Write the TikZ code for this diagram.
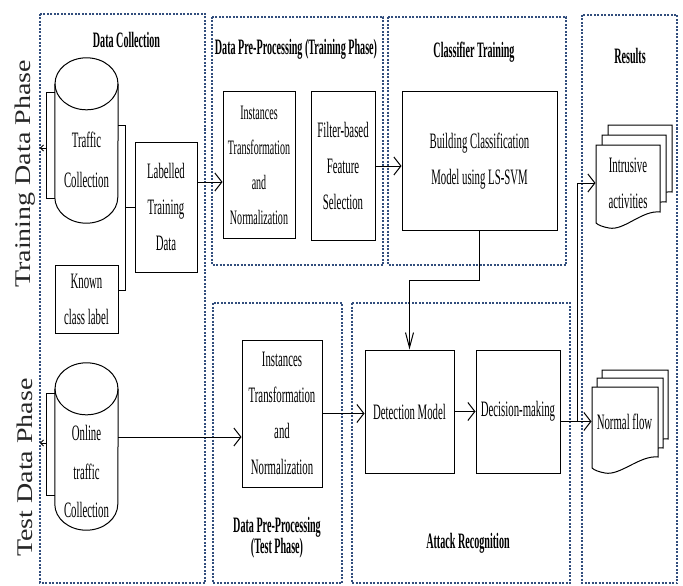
\documentclass[tikz,border=0pt]{standalone}
\usepackage{fontspec}
\usepackage{graphicx}
\usetikzlibrary{arrows.meta}

\newfontfamily\bodyfont[FakeStretch=0.49]{Liberation Serif}
\newfontfamily\titlefont[FakeStretch=0.46]{Liberation Serif}
\newfontfamily\phasefont{Liberation Serif}
\definecolor{regblue}{RGB}{50,78,125}

\tikzset{
  box/.style={draw, line width=1pt, align=center, inner sep=0pt, font=\bodyfont\fontsize{22}{36}\selectfont},
  ttl/.style={align=center, inner sep=0pt, font=\titlefont\bfseries\fontsize{22}{20}\selectfont},
  region/.style={draw=regblue, line width=2pt, dash pattern=on 2pt off 1.5pt},
  harr/.style={-{Straight Barb[length=7pt,width=18pt]}, line width=1pt},
  varr/.style={-{Straight Barb[length=15pt,width=8pt]}, line width=1pt},
  phase/.style={rotate=90, inner sep=0pt, text=black!85, font=\phasefont\fontsize{28}{30}\selectfont}
}

\newcommand{\drawcyl}[1]{%
  \draw[line width=1pt] ([yshift=-26pt]#1.north) ellipse [x radius=31.5pt, y radius=26pt];
  \draw[line width=1pt] ([yshift=-26pt]#1.north west) -- ([yshift=26pt]#1.south west)
    arc [start angle=180, end angle=360, x radius=31.5pt, y radius=26pt] -- ([yshift=-26pt]#1.north east);
}
\newcommand{\docpage}[4]{%
  \filldraw[fill=white, line width=1pt] (#1,-#2) -- (#3,-#2) -- (#3,-#4+16)
    .. controls (#3-18,-#4+18) and (#1+28,-#4-3) .. (#1+13,-#4)
    .. controls (#1+7,-#4+1) and (#1+2,-#4+3) .. (#1,-#4+5) -- cycle;
}

\begin{document}
\begin{tikzpicture}[x=1pt,y=1pt]
    \useasboundingbox (0,0) rectangle (683,-586);
    \fill[white] (0,0) rectangle (683,-586);

    \draw[region] (40,-14) rectangle (205,-583);
    \draw[region] (212,-17) rectangle (383,-265);
    \draw[region] (388,-17) rectangle (566,-265);
    \draw[region] (582,-15) rectangle (677,-583);
    \draw[region] (213,-303) rectangle (342,-583);
    \draw[region] (352,-303) rectangle (570,-583);

    \node[ttl] (tdc) at (126.5,-40) {Data Collection};
    \node[ttl] (tdptr) at (296,-49) {Data Pre-Processing (Training Phase)};
    \node[ttl] (tct) at (474,-52) {Classifier Training};
    \node[ttl] (tres) at (630,-56) {Results};
    \node[ttl] (tdpte) at (277,-538) {Data Pre-Processing\\(Test Phase)};
    \node[ttl] (tar) at (468,-543) {Attack Recognition};

    \node[phase] (trph) at (25,-174) {\scalebox{1}[0.8]{Training Data Phase}};
    \node[phase] (teph) at (25,-467.5) {\scalebox{1}[0.8]{Test Data Phase}};

    \node[minimum width=63pt, minimum height=165pt, inner sep=0pt] (tc) at (86.5,-140.5) {};
    \node[minimum width=63pt, minimum height=167pt, inner sep=0pt] (oc) at (86.5,-446.5) {};
    \drawcyl{tc}
    \drawcyl{oc}
    \node[box, draw=none, font=\bodyfont\fontsize{22}{40}\selectfont] (tctext) at (86.5,-160) {Traffic\\Collection};
    \node[box, draw=none, font=\bodyfont\fontsize{22}{38.5}\selectfont] (octext) at (86.5,-471.5) {Online\\traffic\\Collection};

    \node[box, minimum width=63pt, minimum height=68pt] (known) at (86.5,-299) {Known\\class label};
    \node[box, minimum width=62pt, minimum height=130pt] (lab) at (166,-207) {Labelled\\Training\\Data};
    \node[box, minimum width=72pt, minimum height=146pt, font=\bodyfont\fontsize{20.5}{35}\selectfont] (inst1) at (259,-165) {Instances\\Transformation\\and\\Normalization};
    \node[box, minimum width=64pt, minimum height=148pt] (filt) at (343,-166) {Filter-based\\Feature\\Selection};
    \node[box, minimum width=155pt, minimum height=138pt] (build) at (479.5,-161) {Building Classification\\Model using LS-SVM};
    \node[box, minimum width=80pt, minimum height=147pt] (inst2) at (282,-413.5) {Instances\\Transformation\\and\\Normalization};
    \node[box, minimum width=89pt, minimum height=123pt] (det) at (409.5,-411.5) {Detection Model};
    \node[box, minimum width=84pt, minimum height=123pt] (dec) at (518,-411.5) {Decision-making};

    \docpage{608}{125}{672}{208}
    \docpage{602}{135}{666}{218}
    \docpage{596}{145}{660}{228}
    \docpage{602}{370}{668}{455}
    \docpage{597}{378}{663}{464}
    \docpage{592}{387}{658}{473}
    \node[box, draw=none, minimum width=64pt] (intr) at (628,-183) {Intrusive\\activities};
    \node[box, draw=none, minimum width=65pt] (nf) at (624.5,-422) {Normal flow};

    \draw[line width=1pt] ([yshift=47.5pt]tc.west) -- ++(-8,0) |- ([yshift=-57.5pt]tc.west);
    \draw[-{Straight Barb[length=3pt,width=6pt]}, line width=1pt] ([xshift=-8pt,yshift=-7.5pt]tc.west) -- ++(-7,0);
    \draw[line width=1pt] ([yshift=53.5pt]oc.west) -- ++(-8,0) |- ([yshift=-48.5pt]oc.west);
    \draw[-{Straight Barb[length=3pt,width=6pt]}, line width=1pt] ([xshift=-8pt,yshift=3.5pt]oc.west) -- ++(-7,0);
    \draw[line width=1pt] ([yshift=15.5pt]tc.east) -- ++(7,0) |- ([yshift=9pt]known.east);
    \draw[line width=1pt] (lab.west) -- ++(-10,0);

    \coordinate (labout) at ([yshift=25pt]lab.east);
    \coordinate (ocout) at ([yshift=9.5pt]oc.east);
    \coordinate (decout) at ([yshift=-10pt]dec.east);
    \draw[harr] (labout) -- (labout -| inst1.west);
    \draw[harr] (filt.east) -- (filt.east -| build.west);
    \draw[varr] (build.south) -- ++(0,-50) -| (det.north);
    \draw[harr] (ocout) -- (ocout -| inst2.west);
    \draw[harr] (inst2.east) -- (inst2.east -| det.west);
    \draw[harr] (det.east) -- (dec.west);
    \draw[harr] (decout) -- (decout -| nf.west);
    \draw[harr] (decout) -- ++(17,0) |- (intr.west);
\end{tikzpicture}
\end{document}
